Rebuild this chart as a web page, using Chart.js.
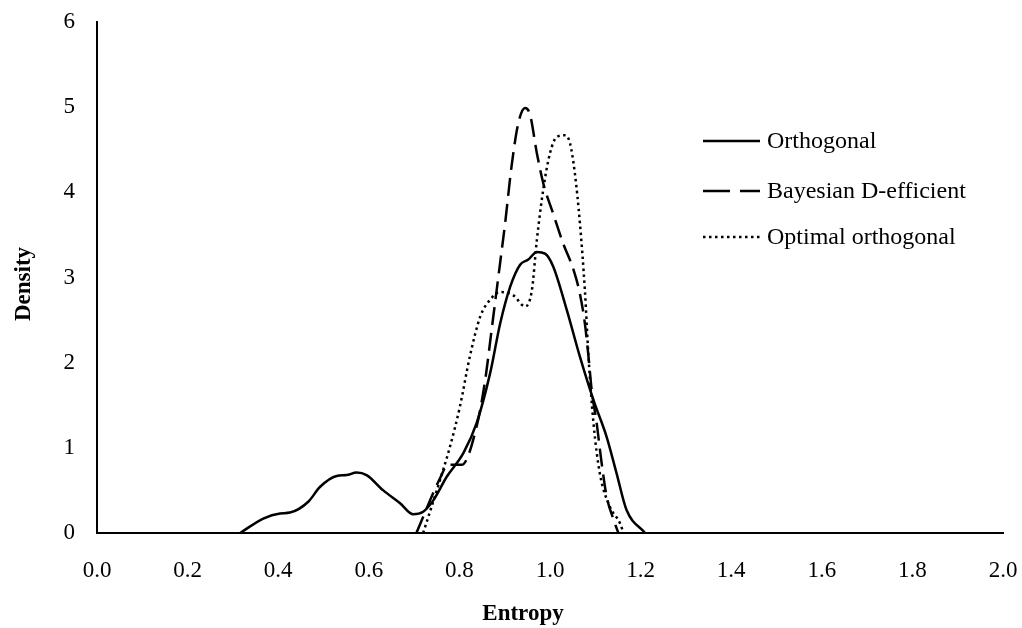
<!DOCTYPE html>
<html>
<head>
<meta charset="utf-8">
<script src="https://cdn.jsdelivr.net/npm/chart.js@4.4.1/dist/chart.umd.min.js"></script>
<style>
  html, body { margin: 0; padding: 0; background: #fff; }
  #wrap { width: 1022px; height: 628px; }
</style>
</head>
<body>
<div id="wrap"><canvas id="densityChart" width="1022" height="628"></canvas></div>
<script>
// Entropy (x) and density (y)
const orthX = [0.316, 0.367, 0.404, 0.426, 0.467, 0.492, 0.529, 0.551, 0.573, 0.595, 0.632, 0.669, 0.698, 0.720, 0.742, 0.772, 0.809, 0.838, 0.868, 0.890, 0.912, 0.934, 0.952, 0.971, 0.989, 1.007, 1.037, 1.066, 1.096, 1.125, 1.147, 1.169, 1.210];
const orthY = [0.00, 0.17, 0.23, 0.24, 0.37, 0.54, 0.67, 0.68, 0.71, 0.68, 0.50, 0.35, 0.22, 0.25, 0.38, 0.66, 0.94, 1.29, 1.88, 2.46, 2.89, 3.15, 3.21, 3.30, 3.28, 3.13, 2.62, 2.07, 1.56, 1.13, 0.70, 0.27, 0.00];

const bayesX = [0.705, 0.757, 0.775, 0.805, 0.838, 0.857, 0.871, 0.886, 0.901, 0.915, 0.930, 0.945, 0.956, 0.971, 0.985, 1.007, 1.029, 1.052, 1.066, 1.077, 1.085, 1.092, 1.103, 1.114, 1.125, 1.140, 1.151];
const bayesY = [0.00, 0.64, 0.80, 0.80, 1.25, 1.80, 2.38, 3.01, 3.64, 4.30, 4.81, 4.99, 4.91, 4.46, 4.11, 3.75, 3.40, 3.09, 2.81, 2.46, 2.07, 1.68, 1.29, 0.82, 0.43, 0.16, 0.00];

const optX = [0.720, 0.750, 0.779, 0.801, 0.823, 0.846, 0.868, 0.890, 0.919, 0.945, 0.960, 0.971, 0.985, 1.000, 1.015, 1.033, 1.044, 1.055, 1.066, 1.077, 1.085, 1.096, 1.110, 1.132, 1.155, 1.162];
const optY = [0.00, 0.50, 1.01, 1.48, 2.07, 2.54, 2.74, 2.83, 2.79, 2.66, 2.85, 3.44, 4.03, 4.46, 4.65, 4.67, 4.58, 4.22, 3.64, 2.85, 2.07, 1.29, 0.70, 0.31, 0.11, 0.00];

const seriesNames = ['Orthogonal', 'Bayesian D-efficient', 'Optimal orthogonal'];
const legendRows = [4.6, 4.02, 3.48]; // legend rows, in density units
const xTitle = 'Entropy';
const yTitle = 'Density';

const toPoints = (xs, ys) => xs.map((x, i) => ({ x: x, y: ys[i] }));

const serif = '"Liberation Serif", "Times New Roman", serif';
const lineDash = [[], [18, 8], [2.5, 3.5]];
const legendDash = [[], [27, 10], [2.5, 3.5]];

// Legend and axis titles drawn by hand, like the original
const textPlugin = {
    id: 'handText',
    afterDraw(chart) {
        const ctx = chart.ctx;
        const yScale = chart.scales.y;
        ctx.save();
        ctx.fillStyle = '#000';
        ctx.textBaseline = 'middle';

        // legend inside the plot
        ctx.font = '24px ' + serif;
        seriesNames.forEach((name, i) => {
            const y = Math.round(yScale.getPixelForValue(legendRows[i]));
            ctx.beginPath();
            ctx.lineWidth = 2.5;
            ctx.strokeStyle = '#000';
            ctx.setLineDash(legendDash[i]);
            ctx.moveTo(703, y);
            ctx.lineTo(760, y);
            ctx.stroke();
            ctx.setLineDash([]);
            ctx.fillText(name, 767, y + 1);
        });

        // axis titles
        ctx.font = 'bold 23px ' + serif;
        ctx.textAlign = 'center';
        ctx.fillText(xTitle, 523, 614);
        ctx.translate(24, 284);
        ctx.rotate(-Math.PI / 2);
        ctx.fillText(yTitle, 0, 0);
        ctx.restore();
    }
};

new Chart(document.getElementById('densityChart'), {
    type: 'line',
    data: {
        datasets: [
            { label: seriesNames[0], data: toPoints(orthX, orthY), borderDash: lineDash[0] },
            { label: seriesNames[1], data: toPoints(bayesX, bayesY), borderDash: lineDash[1] },
            { label: seriesNames[2], data: toPoints(optX, optY), borderDash: lineDash[2] }
        ].map(ds => Object.assign(ds, {
            borderColor: '#000',
            borderWidth: 2.5,
            pointRadius: 0,
            fill: false,
            tension: 0.4,
            cubicInterpolationMode: 'monotone'
        }))
    },
    options: {
        responsive: false,
        animation: false,
        layout: { padding: { left: 0, right: 19, top: 22, bottom: 0 } },
        plugins: { legend: { display: false }, tooltip: { enabled: false } },
        scales: {
            x: {
                type: 'linear',
                min: 0,
                max: 2,
                grid: { display: false, drawTicks: false },
                border: { display: true, color: '#000', width: 2 },
                ticks: {
                    stepSize: 0.2,
                    padding: 24,
                    color: '#000',
                    font: { family: serif, size: 23 },
                    callback: v => v.toFixed(1)
                },
                afterFit: scale => {
                    scale.height = 95;
                    scale.paddingLeft = 0;
                    scale.paddingRight = 0;
                }
            },
            y: {
                min: 0,
                max: 6,
                grid: { display: false, drawTicks: false },
                border: { display: true, color: '#000', width: 2 },
                ticks: {
                    stepSize: 1,
                    padding: 22,
                    color: '#000',
                    font: { family: serif, size: 23 }
                },
                afterFit: scale => {
                    scale.width = 97;
                    scale.paddingTop = 0;
                    scale.paddingBottom = 0;
                }
            }
        }
    },
    plugins: [textPlugin]
});
</script>
</body>
</html>
